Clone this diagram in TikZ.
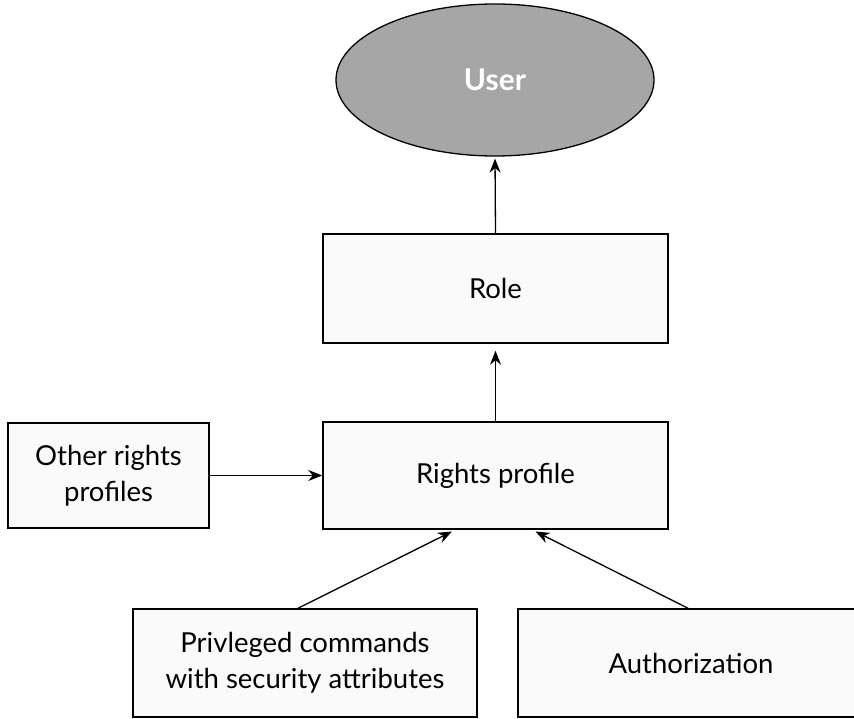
\documentclass[tikz,border=0pt]{standalone}
\usepackage{fontspec}
\setmainfont{Lato}
\usepackage{tikz}
\usetikzlibrary{shapes.geometric,arrows.meta}

\begin{document}
\begin{tikzpicture}[x=1pt,y=-1pt,
  box/.style={draw,line width=1.5pt,fill=black!2,inner sep=0pt,align=center,
    font=\fontsize{27.5}{36}\selectfont},
  arr/.style={-{Stealth[length=14pt,width=11pt]},line width=1.3pt}]
\useasboundingbox (0,0) rectangle (854,719);
\clip (0,0) rectangle (854,719);
% the user on top
\node [ellipse,draw,line width=1.3pt,fill=black!35,text=white,
  minimum width=318pt,minimum height=152pt,inner sep=0pt,
  font=\fontsize{30}{36}\selectfont\bfseries] (user) at (495,80) {User};
\node [box,minimum width=345pt,minimum height=109pt] (role) at (495.5,288.5) {Role};
\node [box,minimum width=345pt,minimum height=107pt] (rights) at (495.5,475.5) {Rights profile};
\node [box,minimum width=201pt,minimum height=105pt] (other) at (108.5,475.5) {Other rights\\profiles};
\node [box,minimum width=344pt,minimum height=108pt] (priv) at (305,663) {Privleged commands\\with security attributes};
\node [box,minimum width=346pt,minimum height=108pt] (auth) at (691,663) {Authorization};
% connectors
\draw [arr,shorten >=2pt] (role.north) -- (user.south);
\draw [arr,shorten >=7pt] (rights.north) -- (role.south);
\draw [arr] (other.east) -- (rights.west);
\draw [arr,shorten >=4pt] ([xshift=-7pt]priv.north) -- ([xshift=-40pt]rights.south);
\draw [arr,shorten >=4pt] ([xshift=-3pt]auth.north) -- ([xshift=36.5pt]rights.south);
\end{tikzpicture}
\end{document}
